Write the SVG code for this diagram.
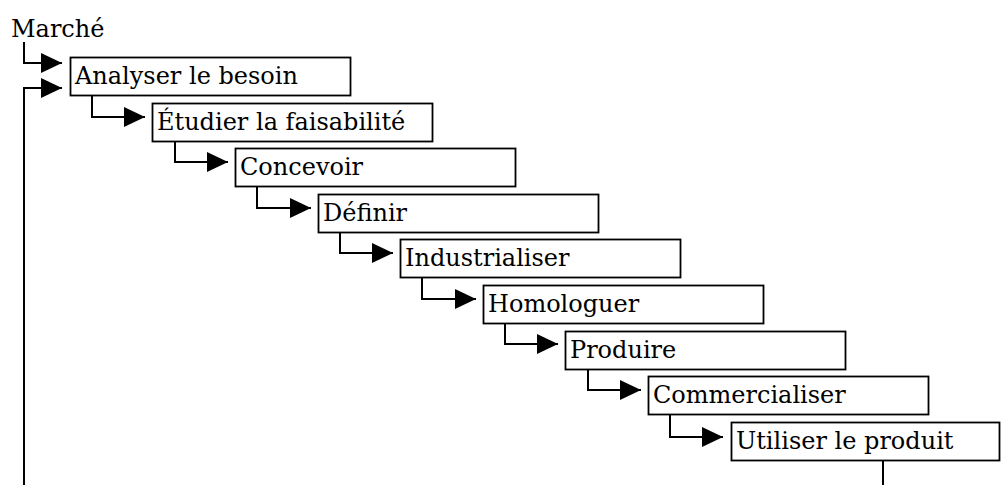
<svg xmlns="http://www.w3.org/2000/svg" width="1001" height="485" viewBox="0 0 1001 485">
<defs>
<marker id="ah" markerUnits="userSpaceOnUse" markerWidth="21" markerHeight="20" refX="21" refY="10" orient="auto">
<path d="M0,0 L21,10 L0,20 Z" fill="#000"/>
</marker>
<style>
.box{fill:#fff;stroke:#000;stroke-width:1.8}
.t{font-family:"DejaVu Serif","Liberation Serif",serif;font-size:24px;fill:#000}
.c{fill:none;stroke:#000;stroke-width:2}
</style>
</defs>
<rect width="1001" height="485" fill="#fff"/>
<g id="connectors">
<path class="c" d="M24,42 V63 H62" marker-end="url(#ah)"/>
<path class="c" d="M24,485 V88 H62" marker-end="url(#ah)"/>
<path class="c" d="M92,95 V117 H145" marker-end="url(#ah)"/>
<path class="c" d="M175,141 V162 H228" marker-end="url(#ah)"/>
<path class="c" d="M257,186 V208 H311" marker-end="url(#ah)"/>
<path class="c" d="M340,232 V253 H393" marker-end="url(#ah)"/>
<path class="c" d="M422,277 V299 H476" marker-end="url(#ah)"/>
<path class="c" d="M505,323 V344 H558" marker-end="url(#ah)"/>
<path class="c" d="M588,369 V390 H641" marker-end="url(#ah)"/>
<path class="c" d="M670,414 V437 H723" marker-end="url(#ah)"/>
<path class="c" d="M883,460 V485"/>
</g>
<g id="marche"><text class="t" x="11" y="37">Marché</text></g>
<g id="n1"><rect class="box" x="70.5" y="57.5" width="280" height="38"/><text class="t" x="75" y="84">Analyser le besoin</text></g>
<g id="n2"><rect class="box" x="152.5" y="103.5" width="280" height="38"/><text class="t" x="157" y="130">Étudier la faisabilité</text></g>
<g id="n3"><rect class="box" x="235.5" y="148.5" width="280" height="38"/><text class="t" x="240" y="175">Concevoir</text></g>
<g id="n4"><rect class="box" x="318.5" y="194.5" width="280" height="38"/><text class="t" x="323" y="221">Définir</text></g>
<g id="n5"><rect class="box" x="400.5" y="239.5" width="280" height="38"/><text class="t" x="405" y="266">Industrialiser</text></g>
<g id="n6"><rect class="box" x="483.5" y="285.5" width="280" height="38"/><text class="t" x="488" y="312">Homologuer</text></g>
<g id="n7"><rect class="box" x="565.5" y="331.5" width="280" height="38"/><text class="t" x="570" y="358">Produire</text></g>
<g id="n8"><rect class="box" x="648.5" y="376.5" width="280" height="38"/><text class="t" x="653" y="403">Commercialiser</text></g>
<g id="n9"><rect class="box" x="731.5" y="422.5" width="268" height="38"/><text class="t" x="736" y="449">Utiliser le produit</text></g>
</svg>
